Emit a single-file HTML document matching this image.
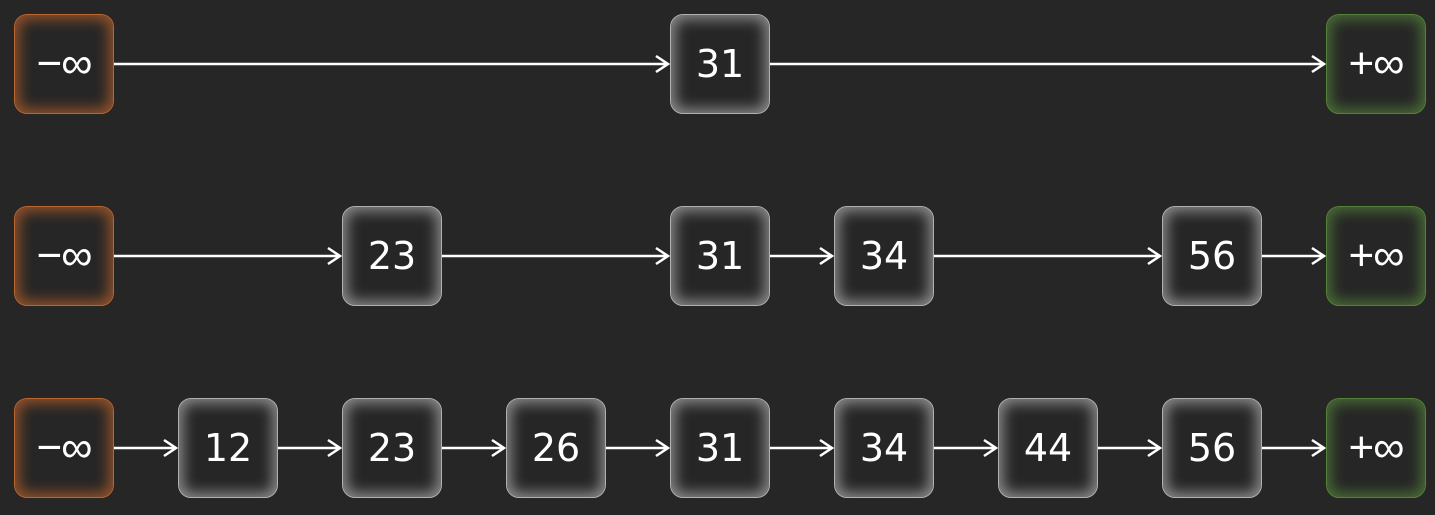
<!DOCTYPE html>
<html><head><meta charset="utf-8"><style>
html,body{margin:0;padding:0;background:#262626;width:1435px;height:515px;overflow:hidden}
#wrap{position:relative;width:1435px;height:515px}
.node{position:absolute;width:100px;height:100px;box-sizing:border-box;border-radius:13px;background:#262626;
display:flex;align-items:center;justify-content:center;color:#fff;font:38px "DejaVu Sans","Liberation Sans",sans-serif;
box-shadow:inset 0 0 14px 4px #8e8e8e;border:1px solid #b0b0b0}
.node.neg{box-shadow:inset 0 0 14px 4px #98542a;border-color:#b8652e}
.node.pos{box-shadow:inset 0 0 14px 4px #4a6e36;border-color:#56803c}
.inf{font:44px "Liberation Sans","DejaVu Sans",sans-serif;letter-spacing:-1px}
svg{position:absolute;left:0;top:0}
</style></head><body>
<div id="wrap">
<svg id="arrows" width="1435" height="515"></svg>
</div>
<script>
const labels=["−∞","12","23","26","31","34","44","56","+∞"];
const level0=[0,4,8];
const level1=[0,2,4,5,7,8];
const level2=[0,1,2,3,4,5,6,7,8];
const levels=[level0,level1,level2];
const colX=i=>14+i*164;
const rowY=r=>14+r*192;
const wrap=document.getElementById('wrap');
const svg=document.getElementById('arrows');
const NS='http://www.w3.org/2000/svg';
levels.forEach((lv,r)=>{
  lv.forEach((c,k)=>{
    const d=document.createElement('div');
    d.className='node'+(c===0?' neg':c===8?' pos':'');
    d.style.left=colX(c)+'px';d.style.top=rowY(r)+'px';
    if(c===0||c===8){const s=document.createElement('span');s.className='inf';s.textContent=labels[c];d.appendChild(s);}
    else d.textContent=labels[c];
    
    
    wrap.appendChild(d);
    if(k<lv.length-1){
      const x1=colX(c)+100,x2=colX(lv[k+1]),y=rowY(r)+50;
      const g=document.createElementNS(NS,'g');
      
      
      const p=document.createElementNS(NS,'path');
      p.setAttribute('d',`M${x1} ${y}H${x2-2}M${x2-14} ${y-8}L${x2-2} ${y}L${x2-14} ${y+8}`);
      p.setAttribute('stroke','#fff');p.setAttribute('stroke-width','2.5');p.setAttribute('fill','none');
      g.appendChild(p);svg.appendChild(g);
    }
  });
});
</script>
</body></html>
